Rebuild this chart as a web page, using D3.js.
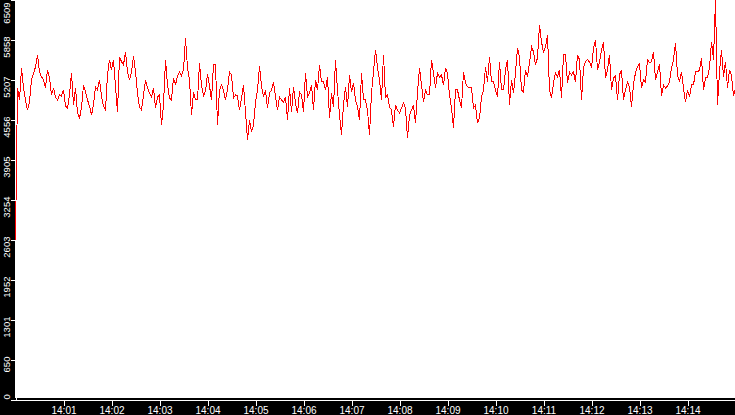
<!DOCTYPE html>
<head>
<meta charset="utf-8">
<title>Counter 14:00 - 14:15</title>
<script src="https://cdn.jsdelivr.net/npm/d3@7"></script>
<style>
	body { margin: 0; background: #000; }
	svg { display: block; }
	.axis text {
		font: 10px "Liberation Sans", Arial, sans-serif;
		fill: #fff;
	}
	.y.axis text { font-size: 9.5px; }
	.axis path,
	.axis line {
		fill: none;
		stroke: #fff;
		shape-rendering: crispEdges;
	}
	.line {
		fill: none;
		stroke: #ff0000;
		stroke-width: 1;
		shape-rendering: crispEdges;
	}
</style>
</head>

<body>
<script>
var width = 735;
var height = 415;

// data: one sample every 2.5 s from 14:00:00
var startTime = "14:00:00";
var sampleSeconds = 2.5;
var counts = [2600,
	5070,4874,5397,5070,4874,4710,4841,5201,5299,5413,
	5610,5331,5250,5201,5070,5364,5233,4955,5070,4923,
	4874,4955,4939,5037,4775,4743,4955,5315,4792,5070,
	4661,4579,4743,5119,5004,4874,4775,4628,4792,5086,
	5037,5201,4939,4775,4710,5282,5528,5364,5528,5086,
	4677,5577,5495,5446,5659,5331,5201,5331,5593,
	5331,4988,4759,4710,4955,5201,5070,4988,4923,5070,
	4743,4923,4955,4465,4792,5528,5119,4906,4874,5233,
	5119,5266,5331,5266,5364,5887,5397,5201,4628,5004,
	4874,4874,5479,5119,4939,5021,5299,5103,4874,5446,
	5446,4465,5037,5119,5037,4874,5037,5331,5282,4906,
	4955,4939,4710,4906,5119,4677,4219,4547,4350,4465,
	4841,5037,5430,5103,4923,5037,4743,4988,5037,5168,
	4923,4710,4923,
	4874,4841,4923,4547,5070,4677,5086,4825,4661,5004,
	4955,4677,5315,4923,4988,5119,4710,5201,5037,5446,
	5168,5168,5037,5250,4579,4988,4759,5528,5037,4628,
	4301,4808,5086,4759,5282,5004,5152,4874,4759,4547,
	5315,4874,4874,4710,4301,4988,5331,5691,5397,5201,
	4874,5610,4923,4955,4759,4710,4432,4792,4710,4661,
	4743,4825,4743,4252,4628,4710,4792,4497,5004,5397,
	5119,4841,5037,4955,4955,
	5528,5315,5070,5315,5250,5282,5119,5397,5315,4955,
	4743,4416,5037,5037,4874,4743,5331,5152,5086,5070,
	5070,4743,4792,4497,4579,4923,5037,5413,5168,5577,
	5168,5168,5037,4923,5495,5037,5037,5364,5528,4792,
	5201,4988,5315,5724,5560,5037,5004,5364,5250,5479,
	5740,5659,5446,5560,6100,5822,5642,5740,5937,5037,
	4906,5152,5315,5250,5364,4906,5610,5610,5152,5331,
	5282,5331,5168,5610,5528,
	4874,5397,5495,5528,5495,5397,5724,5855,5364,5495,
	5691,5822,5233,5364,5610,5037,5233,5266,4874,5282,
	5364,4874,5037,5168,5086,4759,5135,5315,5413,5462,
	5070,5201,5168,5528,5479,5495,5659,5201,5331,5462,
	4939,5119,5070,5103,5168,5397,5528,5806,5282,5168,
	5331,5070,4841,5037,4923,5119,5119,5331,5331,5364,
	5560,5037,5233,5233,5397,5822,5528,6509,4792,5331,
	5691,5250,5495,5070,5364,5266,4939,5070];

var yTicks = [0, 650, 1301, 1952, 2603, 3254, 3905, 4556, 5207, 5858, 6509];
var xTickLabels = ["14:01", "14:02", "14:03", "14:04", "14:05", "14:06", "14:07",
	"14:08", "14:09", "14:10", "14:11", "14:12", "14:13", "14:14"];

var parseTime = d3.timeParse("%H:%M:%S");
var parseMinute = d3.timeParse("%H:%M");
var t0 = parseTime(startTime);
var timeAt = function(i) { return new Date(t0.getTime() + i * sampleSeconds * 1000); };
var t1 = timeAt(counts.length - 1);

var svg = d3.select('body').append("svg")
		.attr("width", width)
		.attr("height", height);

svg.append("rect")
	.attr("width", width)
	.attr("height", height)
	.style("fill", "#000");

// scales
var xScale = d3.scaleTime().domain([t0, t1]).range([15.5, 735.5]);
var yScale = d3.scaleLinear().domain([0, d3.max(counts)]).range([399.5, -0.5]);

// white plot area
svg.append("rect")
	.attr("x", 15)
	.attr("y", 0)
	.attr("width", width - 15)
	.attr("height", 398)
	.style("fill", "#fff");

// x axis
var xAxis = svg.append("g")
	.attr("class", "x axis")
	.attr("transform", "translate(0,399.5)")
	.call(d3.axisBottom(xScale)
		.tickValues(xTickLabels.map(parseMinute))
		.tickFormat(d3.timeFormat("%H:%M"))
		.tickSize(6)
		.tickSizeOuter(0));
xAxis.selectAll(".tick text")
	.attr("y", 14.5)
	.attr("dy", 0);

// y axis, labels turned up the side
var yAxis = svg.append("g")
	.attr("class", "y axis")
	.attr("transform", "translate(15.5,0)")
	.call(d3.axisLeft(yScale)
		.tickValues(yTicks)
		.tickFormat(d3.format("d"))
		.tickSize(5)
		.tickSizeOuter(0));
yAxis.selectAll(".tick text")
	.attr("transform", "rotate(-90)")
	.attr("y", -6)
	.attr("dy", 0)
	.attr("x", function(d, i) {
		if (i == 0) return 0.5;
		if (i == yTicks.length - 1) return -2.5;
		return 3.5;
	})
	.style("text-anchor", function(d, i) { return i == 0 ? "start" : "end"; });

// the series
var line = d3.line()
	.x(function(d, i) { return xScale(timeAt(i)); })
	.y(function(d) { return yScale(d); });

svg.append("path")
	.datum(counts)
	.attr("class", "line")
	.attr("d", line);
</script>
</body>
